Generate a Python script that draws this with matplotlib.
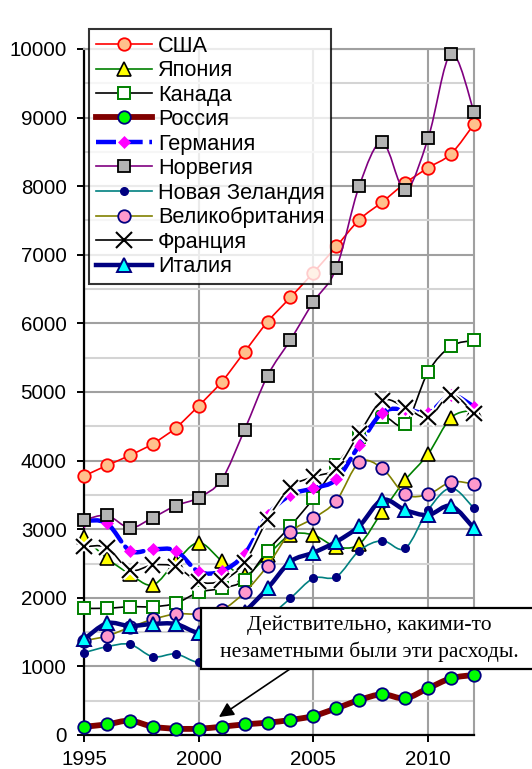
import matplotlib
matplotlib.use("Agg")
import matplotlib.pyplot as plt
import numpy as np
from matplotlib.lines import Line2D
from matplotlib.patches import PathPatch, Rectangle
from matplotlib.path import Path
import matplotlib.patheffects as pe

years = list(range(1995, 2013))

usa = [3775, 3930, 4076, 4246, 4478, 4799, 5148, 5585, 6022, 6380,
       6740, 7122, 7511, 7769, 8045, 8268, 8472, 8904]
japan = [2882, 2576, 2347, 2187, 2527, 2804, 2541, 2330, 2624, 2915,
         2915, 2745, 2784, 3255, 3717, 4096, 4626, 4738]
canada = [1847, 1847, 1870, 1870, 1920, 2080, 2138, 2259, 2686, 3047,
          3450, 3931, 4350, 4640, 4529, 5292, 5666, 5754]
russia = [121, 155, 208, 121, 92, 92, 121, 155, 180, 219,
          277, 389, 510, 593, 535, 681, 827, 875]
germany = [3124, 3086, 2687, 2706, 2687, 2381, 2391, 2638, 3200, 3499,
           3596, 3727, 4227, 4699, 4750, 4700, 4950, 4786]
norway = [3134, 3200, 3020, 3169, 3343, 3460, 3722, 4450, 5236, 5760,
          6313, 6808, 8006, 8642, 7948, 8700, 9932, 9083]
new_zealand = [1200, 1287, 1322, 1141, 1181, 1060, 1150, 1400, 1700, 1993,
               2284, 2308, 2687, 2833, 2721, 3280, 3600, 3304]
uk = [1375, 1443, 1570, 1686, 1764, 1764, 1822, 2080, 2468, 2955,
      3159, 3416, 3975, 3887, 3509, 3509, 3688, 3659]
france = [2745, 2731, 2405, 2478, 2454, 2235, 2250, 2512, 3144, 3610,
          3765, 3887, 4397, 4873, 4776, 4631, 4956, 4689]
italy = [1395, 1628, 1589, 1618, 1618, 1491, 1550, 1800, 2138, 2527,
         2658, 2818, 3047, 3426, 3280, 3207, 3338, 3013]

labels = ["США", "Япония", "Канада", "Россия", "Германия", "Норвегия",
          "Новая Зеландия", "Великобритания", "Франция", "Италия"]
series_values = [usa, japan, canada, russia, germany, norway,
                 new_zealand, uk, france, italy]

note_text = "Действительно, какими-то\nнезаметными были эти расходы."

styles = [
    dict(color="#FF0000", lw=1.2, ls="-", marker="o", ms=9, mfc="#FFC08C", mec="#FF0000", mew=1.3),
    dict(color="#008000", lw=1.2, ls="-", marker="^", ms=10, mfc="#FFFF00", mec="#000000", mew=1.2),
    dict(color="#000000", lw=1.2, ls="-", marker="s", ms=8.5, mfc="#FFFFFF", mec="#008000", mew=1.4),
    dict(color="#800000", lw=4.2, ls="-", marker="o", ms=9, mfc="#00FF00", mec="#000080", mew=1.3),
    dict(color="#0000FF", lw=3.2, ls=(0, (4.5, 1.5)), marker="D", ms=6, mfc="#FF00FF", mec="#FF00FF", mew=0.5),
    dict(color="#800080", lw=1.2, ls="-", marker="s", ms=9, mfc="#B4B4B4", mec="#000000", mew=1.3),
    dict(color="#008080", lw=1.2, ls="-", marker="o", ms=5.5, mfc="#000080", mec="#000080", mew=1.0),
    dict(color="#808000", lw=1.2, ls="-", marker="o", ms=9, mfc="#FF99CC", mec="#000080", mew=1.3),
    dict(color="#000000", lw=1.2, ls="-", marker="x", ms=11, mfc="#000000", mec="#000000", mew=1.5),
    dict(color="#000080", lw=3.2, ls="-", marker="^", ms=10, mfc="#00FFFF", mec="#000080", mew=1.4),
]


def smooth_path(xs, ys):
    # Bezier curve through the points, like Excel's "smoothed line"
    pts = np.column_stack([xs, ys]).astype(float)
    padded = np.vstack([pts[0], pts, pts[-1]])
    verts = [pts[0]]
    codes = [Path.MOVETO]
    for i in range(len(pts) - 1):
        p0, p1, p2, p3 = padded[i], padded[i + 1], padded[i + 2], padded[i + 3]
        verts += [p1 + (p2 - p0) / 6, p2 - (p3 - p1) / 6, p2]
        codes += [Path.CURVE4] * 3
    return Path(verts, codes)


plt.rcParams["font.family"] = ["Liberation Sans", "DejaVu Sans"]

fig = plt.figure(figsize=(5.32, 7.69), dpi=100)
ax = fig.add_axes([84 / 532, 1 - 735 / 769, 390 / 532, 686 / 769])

ax.set_xlim(1995, 2012)
ax.set_ylim(0, 10000)
ax.set_yticks(range(0, 10001, 1000))
ax.set_yticks(range(500, 10000, 1000), minor=True)
ax.set_xticks([1995, 2000, 2005, 2010])
ax.grid(True, which="major", color="#A0A0A0", lw=1.5)
ax.grid(True, which="minor", axis="y", color="#D4D4D4", lw=1.5)
ax.set_axisbelow(True)
ax.tick_params(axis="both", which="major", direction="out", length=5, width=1.4,
               labelsize=14.8)
ax.tick_params(axis="y", which="major", pad=7.5)
ax.tick_params(axis="x", which="major", pad=6)
ax.tick_params(axis="y", which="minor", length=0)
for side in ("left", "bottom"):
    ax.spines[side].set_color("black")
    ax.spines[side].set_linewidth(1.6)
for side in ("top", "right"):
    ax.spines[side].set_color("#A0A0A0")
    ax.spines[side].set_linewidth(1.5)

handles = []
for i, (lab, vals, st) in enumerate(zip(labels, series_values, styles)):
    z = 3 + i * 0.1
    line = PathPatch(smooth_path(years, vals), fill=False, edgecolor=st["color"],
                     lw=st["lw"], linestyle=st["ls"], transform=ax.transData,
                     zorder=z, capstyle="round", joinstyle="round")
    mk = ax.plot(years, vals, linestyle="none", marker=st["marker"], ms=st["ms"],
                 mfc=st["mfc"], mec=st["mec"], mew=st["mew"], zorder=z + 0.05,
                 clip_on=False)[0]
    if lab == "Франция":
        line.set_path_effects([pe.withStroke(linewidth=4, foreground="white")])
        mk.set_path_effects([pe.withStroke(linewidth=4.5, foreground="white")])
    ax.add_patch(line)
    handles.append(Line2D([], [], color=st["color"], lw=st["lw"], ls=st["ls"],
                          marker=st["marker"], ms=st["ms"], mfc=st["mfc"],
                          mec=st["mec"], mew=st["mew"], label=lab))

leg = ax.legend(handles=handles, loc="upper left", bbox_to_anchor=(0.013, 1.029),
                borderaxespad=0, fontsize=15.7, frameon=True, fancybox=False,
                handlelength=2.6, handletextpad=0.25, labelspacing=0.16,
                borderpad=0.3, numpoints=1)
leg.get_frame().set_edgecolor("black")
leg.get_frame().set_linewidth(1.5)
leg.set_zorder(10)

# note box with the arrow pointing at Russia
box = Rectangle((201 / 532, 1 - 669 / 769), 340 / 532, 61 / 769,
                transform=fig.transFigure, facecolor="white", edgecolor="black",
                lw=1.6, zorder=11, clip_on=False)
fig.patches.append(box)
fig.text(369 / 532, 1 - 638.5 / 769, note_text, ha="center", va="center",
         fontsize=15.5, family="Liberation Serif", linespacing=1.45, zorder=12)
ax.annotate("", xy=(2000.88, 262), xycoords="data",
            xytext=(290 / 532, 1 - 669 / 769), textcoords="figure fraction",
            arrowprops=dict(arrowstyle="-|>", color="black", lw=1.2,
                            mutation_scale=22, shrinkA=0, shrinkB=0),
            zorder=12)

fig.savefig("out.png", dpi=100)
